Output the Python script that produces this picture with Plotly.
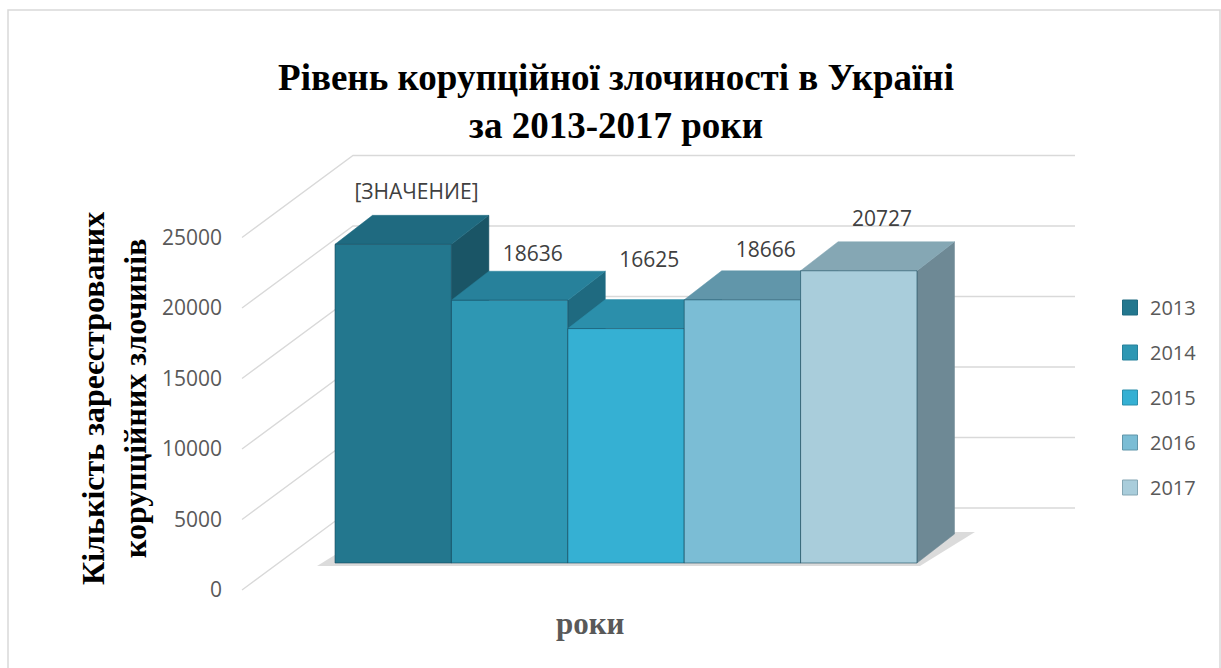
import plotly.graph_objects as go

# ---------------- data ----------------
years = ["2013", "2014", "2015", "2016", "2017"]
values = [22600, 18636, 16625, 18666, 20727]
label_texts = ["[ЗНАЧЕНИЕ]", "18636", "16625", "18666", "20727"]
y_ticks = [0, 5000, 10000, 15000, 20000, 25000]

title_text = "Рівень корупційної злочиності в Україні<br>за 2013-2017 роки"
ytitle_text = "Кількість зареєстрованих<br>корупційних злочинів"
xtitle_text = "роки"

# ---------------- style ----------------
front_colors = ["#23778e", "#2e97b3", "#35b0d3", "#7bbdd5", "#a9cddb"]
top_colors = ["#1f6a80", "#27819b", "#2b8fab", "#6196aa", "#85a7b4"]
side_colors = ["#1a5566", "#1f6a80", "#247a92", "#537f90", "#6e8995"]
grid_color = "#d9d9d9"
text_grey = "#595959"

W, H = 1221, 668
ML, MR, MT, MB = 8, 1, 10, 0
K = 0.0141            # px per value unit (vertical)
PXU = 116.4           # px per bar slot (horizontal)
X0_PX = 393.2         # px of first bar centre
Y0_PX = 590           # px of value 0 on the left wall front edge

def ux(px):           # px -> x units
    return (px - X0_PX) / PXU

def dv(px):           # vertical px length -> value units
    return px / K

SH_FRONT = dv(27)     # bar base above wall-front zero
SH_WALL = dv(82)      # back-wall shift
DEPTH_X = 37.5 / PXU  # bar depth (x)
DEPTH_Y = dv(29)      # bar depth (y)
WALL_FRONT_X = ux(242)
WALL_BACK_X = ux(353)
WALL_RIGHT_X = ux(1075)
LABEL_DX = 0.2
LABEL_DY = dv(48)
LABEL_NUDGE = [dv(3), dv(-4), dv(19), dv(0), dv(2)]

fig = go.Figure()

# floor shadow
fig.add_trace(go.Scatter(
    x=[ux(317), ux(920), ux(975), ux(372)],
    y=[SH_FRONT - dv(3), SH_FRONT - dv(3), SH_FRONT + dv(31), SH_FRONT + dv(31)],
    fill="toself", mode="lines", line=dict(width=0),
    fillcolor="rgba(0,0,0,0.14)", hoverinfo="skip", showlegend=False))

# side wall diagonals and back wall grid lines
for t in y_ticks:
    fig.add_trace(go.Scatter(
        x=[WALL_FRONT_X, WALL_BACK_X, WALL_RIGHT_X],
        y=[t, t + SH_WALL, t + SH_WALL],
        mode="lines", line=dict(color=grid_color, width=1.3),
        hoverinfo="skip", showlegend=False))

# pseudo-3D bars
for i, (yr, v) in enumerate(zip(years, values)):
    xl, xr = i - 0.5, i + 0.5
    base, top = SH_FRONT, SH_FRONT + v
    # side face
    fig.add_trace(go.Scatter(
        x=[xr, xr, xr + DEPTH_X, xr + DEPTH_X, xr],
        y=[base, top, top + DEPTH_Y, base + DEPTH_Y, base],
        fill="toself", mode="lines", line=dict(width=0.5, color=side_colors[i]),
        fillcolor=side_colors[i], hoverinfo="skip", showlegend=False,
        legendgroup=yr))
    # top face
    fig.add_trace(go.Scatter(
        x=[xl, xr, xr + DEPTH_X, xl + DEPTH_X, xl],
        y=[top, top, top + DEPTH_Y, top + DEPTH_Y, top],
        fill="toself", mode="lines", line=dict(width=0.5, color=top_colors[i]),
        fillcolor=top_colors[i], hoverinfo="skip", showlegend=False,
        legendgroup=yr))
    # front face
    fig.add_trace(go.Scatter(
        x=[xl, xr, xr, xl, xl],
        y=[base, base, top, top, base],
        fill="toself", mode="lines", line=dict(width=1, color="rgba(20,70,90,0.6)"),
        fillcolor=front_colors[i], name=yr, showlegend=False,
        legendgroup=yr, hoverinfo="name+text", text=[str(v)] * 5))

# data labels
fig.add_trace(go.Scatter(
    x=[i + LABEL_DX for i in range(len(values))],
    y=[SH_FRONT + v + LABEL_DY + n for v, n in zip(values, LABEL_NUDGE)],
    text=label_texts, mode="text",
    textfont=dict(family="Open Sans", size=21, color="#404040"),
    hoverinfo="skip", showlegend=False))

# legend entries
for i, yr in enumerate(years):
    fig.add_trace(go.Scatter(
        x=[None], y=[None], mode="markers", name=yr, legendgroup=yr,
        marker=dict(symbol="square", size=15, color=front_colors[i],
                    line=dict(color=top_colors[i], width=1))))

plot_w = W - ML - MR
plot_h = H - MT - MB

def px_x(px):
    return (px - ML) / plot_w

def px_y(py):
    return (H - MB - py) / plot_h

fig.update_layout(
    width=W, height=H,
    margin=dict(l=ML, r=MR, t=MT, b=MB),
    paper_bgcolor="white", plot_bgcolor="white",
    showlegend=True,
    xaxis=dict(range=[ux(ML), ux(W - MR)], visible=False, fixedrange=True),
    yaxis=dict(range=[(Y0_PX - (H - MB)) / K, (Y0_PX - MT) / K],
               anchor="free", position=px_x(222),
               tickvals=y_ticks, ticktext=[str(t) for t in y_ticks],
               showgrid=False, zeroline=False, showline=False, ticks="",
               tickfont=dict(family="Open Sans", size=21, color=text_grey)),
    title=dict(text=title_text, x=616 / W, xref="container", xanchor="center",
               y=1 - 90 / H, yref="container", yanchor="middle",
               font=dict(family="Liberation Serif", size=37, color="black")),
    legend=dict(x=px_x(1110), y=px_y(288), xanchor="left", yanchor="top",
                itemwidth=30,
                font=dict(family="Open Sans", size=20, color=text_grey),
                tracegroupgap=16, bgcolor="rgba(0,0,0,0)"),
    shapes=[dict(type="path", xref="paper", yref="paper",
                 path="M 0 0 L 0 1 L 1 1 L 1 0",
                 line=dict(color="#d9d9d9", width=1.5), layer="above")],
    annotations=[
        dict(text="<b>" + ytitle_text + "</b>", textangle=-90,
             xref="paper", yref="paper", x=px_x(114), y=px_y(399),
             xanchor="center", yanchor="middle", showarrow=False,
             font=dict(family="Liberation Serif", size=32, color="black")),
        dict(text="<b>" + xtitle_text + "</b>",
             xref="paper", yref="paper", x=px_x(590), y=px_y(623),
             xanchor="center", yanchor="middle", showarrow=False,
             font=dict(family="Liberation Serif", size=31, color=text_grey)),
    ],
)
fig.layout.title.text = "<b>" + title_text.replace("<br>", "</b><br><b>") + "</b>"

fig.write_html("out.html")
